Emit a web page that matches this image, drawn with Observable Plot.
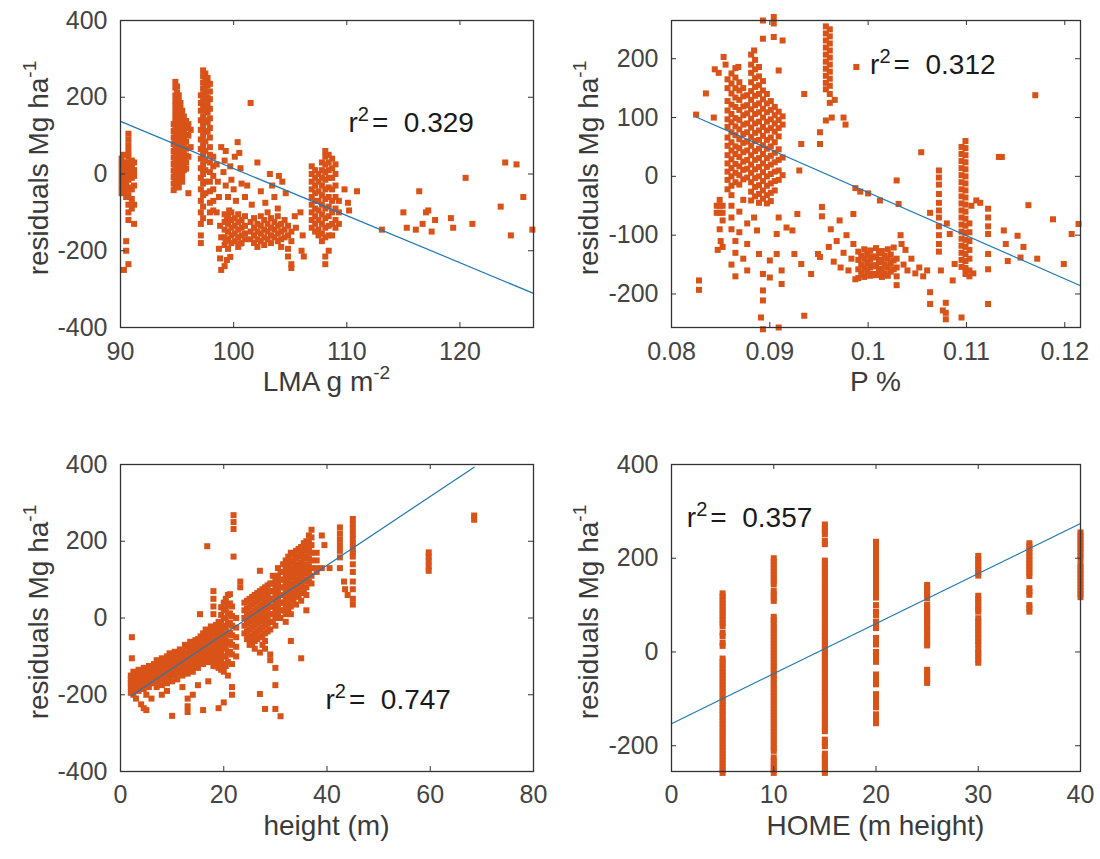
<!DOCTYPE html>
<html><head><meta charset="utf-8">
<script src="https://cdn.jsdelivr.net/npm/d3@7"></script>
<script src="https://cdn.jsdelivr.net/npm/@observablehq/plot@0.6"></script>
<style>
body{margin:0;background:#fff;}
#wrap{position:relative;width:1100px;height:859px;overflow:hidden;font-family:"Liberation Sans",Arial,Helvetica,sans-serif;}
.title{position:absolute;font-size:28px;line-height:20px;white-space:nowrap;color:#3a3a3a;}
.sup{font-size:0.68em;position:relative;top:-0.62em;}
</style></head><body><div id="wrap"></div><script>
// ---- data ----
const lmaCols = [
[90.1,[40,25,10,-5,-20,-35,-50]],[90.3,[50,30,15,0,-15,-30,-45,-250]],[90.5,[20,5,-10,-25,-40,-60,-175,-200]],
[90.7,[105,90,75,60,45,30,15,0,-15,-35,-55,-80,-100,-120,-235]],[91.0,[35,20,5,-10,-40,-65,-90]],[91.2,[30,10,-5,-30,-80,-130]],
[94.7,[130,112,95,78,60,43,26,9,-8,-25,-42]],
[94.85,[240,225,205,190,176,162,148,134,120,106,92,78,64,50,36,22,8,-6,-20,-34]],
[95.0,[228,212,198,184,170,156,142,128,114,100,86,72,58,44,30,16,2,-12,-26]],
[95.15,[205,190,176,162,148,134,120,106,92,78,64,50,36,22,8,-6,-20,-35]],
[95.3,[185,170,156,142,128,114,100,86,72,58,44,30,16,2,-12]],
[95.45,[165,150,136,122,108,94,80,66,52,38,24,10,-5,-20]],
[95.6,[150,134,118,104,90,74,58,42,26,10]],[95.8,[138,120,102,84,66,48,30,14]],
[96.0,[130,100,45,-50]],[96.2,[115,70]],
[97.1,[205,185,165,140,115,90,65,40,15,-10,-40,-70,-100,-130,-160,-180]],
[97.3,[270,255,238,222,206,190,172,150,125,100,75,50,25,0,-25,-55,-85,-115]],
[97.5,[262,246,230,214,198,182,165,140,112,85,60,35,10,-20,-50]],
[97.7,[250,232,215,198,180,160,135,110]],
[97.9,[235,215,195,170,145,120,95,70,50,30,5,-20,-45,-75,-100,-125]],
[98.2,[45,20,-5,-40,-70,-95]],
[98.5,[25,-100]],[98.6,[-20]],[98.7,[-60,-195]],[98.8,[-135,-220]],[98.9,[70,-165,-250]],
[99.1,[5]],[99.2,[35,-105,-125,-145,-165,-185,-240]],[99.3,[60,-30,-175]],[99.4,[-120,-224]],
[99.5,[-60,-110,-130,-150,-170,-195]],[99.6,[-95]],[99.7,[20,-216]],[99.8,[-15,-100,-120,-140,-160,-180]],
[100.0,[-40]],[100.1,[45,-115,-135,-155,-175]],[100.2,[-70]],[100.35,[83]],[100.4,[-105,-125,-145,-165,-190]],
[100.5,[55]],[100.6,[15,-181]],[100.7,[-25,-120,-140,-160,-180]],[101.0,[-60,-110,-135,-155,-170]],[101.2,[-30]],
[101.5,[185,-125,-150,-170]],[101.6,[-80]],[101.8,[-115,-140,-160,-180]],[102.1,[30,-130,-150,-170,-190]],
[102.4,[-45,-110,-135,-155,-175]],[102.7,[-120,-145,-165,-185]],[102.8,[-75]],[103.0,[-100,-130,-150,-170]],[103.2,[0]],
[103.3,[-115,-140,-160,-180]],[103.4,[-30]],[103.6,[-60,-125,-145,-165]],[103.9,[-90,-110,-135,-155,-175]],[104.0,[-5]],
[104.2,[-130,-150,-170,-190]],[104.3,[-20]],[104.5,[-120,-145,-165]],[104.6,[-50]],[104.8,[-135,-160,-195,-215]],
[105.1,[-150,-175,-235,-245]],[105.4,[-110]],[105.5,[-140]],[105.9,[-100]],[106.0,[-200]],[106.1,[-160]],[106.2,[-215]],
[106.9,[20,0,-20,-40,-60,-80,-100,-120,-140]],
[107.2,[10,-10,-30,-50,-70,-90,-110,-130,-150]],
[107.5,[0,-20,-45,-70,-95,-120,-145,-160]],
[107.8,[30,10,-10,-30,-55,-80,-105,-130,-155,-175]],
[108.1,[60,45,25,5,-15,-40,-65,-90,-115,-140,-165,-215,-235]],
[108.4,[50,30,10,-10,-35,-60,-85,-110,-135,-160,-200]],
[108.7,[40,15,-10,-40,-70,-100,-130,-160]],
[109.0,[25,0,-30,-60,-90,-120,-140]],[109.3,[-70,-100,-130]],
[109.8,[-40]],[110.1,[-75]],[110.2,[-95]],[110.9,[-45]],[113.1,[-145]],[115.0,[-100]],[115.3,[-140]],[116.1,[-145]],
[116.4,[-45]],[116.7,[-130]],[117.0,[-100]],[117.2,[-95]],[117.5,[-150]],[117.8,[-120]],[119.2,[-115]],[119.4,[-140]],
[120.5,[-10]],[121.1,[-130]],[123.6,[-85]],[124.0,[30]],[124.5,[-160]],[125.0,[25]],[125.6,[-60]],[126.4,[-145]]
];
const pCols = [
[0.0825,[105]],[0.0828,[-177,-193]],[0.0835,[141]],[0.0843,[100]],[0.0844,[182]],[0.0848,[176]],
[0.0846,[-50,-62]],[0.0849,[-40,-50,-62,-90]],[0.0850,[-110]],[0.0847,[-125]],[0.0852,[-50,-62,-75,-120]],
[0.0853,[203]],[0.0855,[190]],
[0.0857,[165,150,128,112,97,84,66,52,36,22,8,-6,-22]],
[0.0861,[175,158,141,122,106,92,75,58,44,29,14,0,-16,-32,-50,-70,-90,-150]],
[0.0865,[184,168,150,134,118,99,85,70,51,38,21,6,-10,-110,-130,-170]],[0.0868,[186]],
[0.0869,[160,146,130,113,96,80,63,48,33,17,2,-14,-60,-95]],
[0.0873,[150,136,119,104,88,72,57,41,25,11,-5,-40,-140]],
[0.0877,[138,121,107,90,75,59,44,28,13,-2,-80,-115,-160]],
[0.0881,[207,190,176,160,145,130,114,98,83,67,52,36,20,6,-10,-26,-41]],[0.0884,[214,-70]],
[0.0885,[198,182,167,152,137,121,106,90,74,60,43,28,12,-3,-18,-34]],[0.0887,[-92]],[0.0889,[-132]],
[0.0889,[186,170,155,140,124,109,93,78,62,47,31,16,0,-15,-30,-45]],[0.0891,[-240]],
[0.0893,[265,234,162,146,131,115,100,84,69,53,38,22,7,-8,-24,-38,-166,-194,-211,-260]],
[0.0897,[140,124,109,93,78,62,47,31,16,0,-16,-32,-46]],[0.0900,[-143,-172]],
[0.0901,[128,113,97,82,66,51,35,20,4,-12,-28,-42]],[0.0904,[271,260,237]],
[0.0905,[118,104,90,76,58,40,24,8,-8,-24]],[0.0907,[-98,-132]],
[0.0909,[180,110,96,82,68,46,28,10,-6,-70,-257]],[0.0912,[-160,-183]],[0.0913,[231,102,88,32,2]],
[0.0917,[-87]],[0.0923,[-92]],[0.0925,[-132]],[0.0928,[-64]],[0.0930,[10]],[0.0932,[55,-149]],[0.0935,[140,-237]],
[0.0942,[-166]],[0.0949,[-132]],[0.0951,[75,55,-137]],[0.0953,[-52,-68]],
[0.0957,[255,243,231,219,207,195,183,171,159,148,95]],
[0.0961,[250,238,226,214,202,190,178,166,154,140,125]],
[0.0963,[100]],[0.0966,[130]],
[0.0960,[-120]],[0.0962,[-90]],[0.0965,[-145]],[0.0968,[-110]],[0.0971,[-75]],[0.0972,[-155]],[0.0975,[100,-130]],
[0.0977,[88]],[0.0978,[-100]],[0.0980,[-160]],[0.0983,[-140]],[0.0985,[-64,-115]],[0.0987,[-20,-175]],[0.0988,[186]],
[0.0990,[-128,-142,-158,-173]],[0.0992,[-26]],[0.0993,[-135,-150,-166]],[0.0996,[-124,-140,-156,-171]],
[0.0999,[-132,-147,-162]],[0.1000,[-29]],[0.1002,[-126,-141,-155,-169]],[0.1005,[-136,-151,-166]],
[0.1008,[-122,-138,-153,-168]],[0.1011,[-131,-146,-161]],[0.1012,[-41]],[0.1014,[-127,-142,-157,-171]],
[0.1017,[-135,-150,-165]],[0.1020,[-124,-140,-155,-169]],[0.1023,[-133,-148,-162]],[0.1026,[-121,-143,-158]],
[0.1029,[-7,-140,-155,-170,-185]],[0.1031,[-47]],
[0.1033,[-100]],[0.1034,[-115]],[0.1036,[-150]],[0.1038,[-125]],[0.1040,[-160]],[0.1044,[-140]],[0.1048,[-165]],
[0.1052,[-155]],[0.1054,[41]],[0.1056,[-170]],[0.1060,[-160]],[0.1063,[-62,-197,-217]],
[0.1072,[10,-2,-14,-30,-45,-58,-70,-85,-100,-115,-128]],[0.1074,[-160]],[0.1076,[-228]],[0.1079,[-215,-232,-243]],
[0.1080,[-80]],[0.1083,[-98]],[0.1086,[-177]],[0.1088,[-149]],
[0.1095,[50,38,26,14,2,-10,-22,-34,-46,-58,-70,-82,-94,-106,-118,-130,-142,-154,-240]],
[0.1099,[60,48,36,24,12,0,-12,-24,-36,-48,-60,-72,-84,-96,-108,-120,-132,-144,-156,-166]],
[0.1103,[-80,-95,-110,-125,-140,-160,-170]],[0.1105,[-50]],[0.1107,[-165]],
[0.1110,[-41]],[0.1114,[-45]],[0.1122,[-55,-70,-85,-98,-132,-158,-217]],[0.1133,[33]],[0.1136,[33]],
[0.1138,[-92]],[0.1140,[-115]],[0.1142,[-144]],[0.1152,[-101]],[0.1155,[-138]],[0.1158,[-120]],[0.1163,[-49]],
[0.1170,[138]],[0.1172,[-140]],[0.1188,[-73]],[0.1199,[-149]],[0.1207,[-98]],[0.1214,[-81]]
];
const heightCols = [
[2.0,[-150,-160,-170,-180,-195]],[2.2,[-50,-105]],[2.5,[-140,-155,-165,-175,-185,-200]],
[3.0,[-145,-155,-165,-175,-185,-210]],[3.5,[-135,-150,-160,-170,-180,-190]],
[4.0,[-140,-150,-160,-170,-180,-225]],[4.5,[-130,-145,-155,-165,-175,-185,-235]],
[5.0,[-135,-145,-155,-165,-175,-200,-240]],[5.5,[-125,-140,-150,-160,-170,-180]],
[6.0,[-130,-140,-150,-160,-170,-210]],[6.5,[-120,-135,-148,-162]],[7.0,[-110,-125,-135,-145,-155,-165,-180]],
[7.5,[-115,-128,-142,-158]],[8.0,[-105,-120,-130,-140,-150,-160,-175,-200]],[8.5,[-110,-124,-138,-152,-166]],
[9.0,[-100,-115,-125,-135,-145,-155,-170,-190]],[9.5,[-92,-108,-122,-140,-158]],
[10.0,[-95,-110,-120,-130,-140,-150,-165,-255]],[10.5,[-88,-102,-118,-132,-148]],[11.0,[-90,-105,-115,-125,-135,-145,-160]],
[11.5,[-82,-96,-112,-128,-142]],[12.0,[-85,-100,-110,-120,-130,-140,-150,-180]],[12.5,[-70,-92,-108,-124,-138]],
[13.0,[-75,-90,-100,-110,-120,-130,-145,-210,-230,-245]],[13.5,[-62,-84,-100,-116,-132]],
[14.0,[-65,-80,-95,-105,-115,-125,-140,-200]],[14.5,[-58,-76,-92,-110,-126]],
[15.0,[-55,-70,-85,-95,-105,-115,-130,-175]],[15.4,[10]],[15.5,[-48,-64,-80,-98,-116]],
[16.0,[-40,-55,-70,-85,-95,-105,-120,-240]],[16.5,[-30,-48,-66,-84,-102]],[16.8,[187]],
[17.0,[-35,-50,-65,-80,-90,-100,-115,-165]],[17.5,[-22,-42,-60,-78,-96,-112]],
[18.0,[70,50,30,10,-30,-45,-60,-75,-85,-95,-110,-125]],[18.5,[-18,-36,-54,-72,-90,-108,-126]],
[19.0,[-10,-25,-40,-55,-70,-85,-100,-115,-130,-235]],[19.5,[28,8,-12,-32,-52,-72,-92,-112,-135]],
[20.0,[40,20,0,-20,-40,-60,-80,-100,-120,-140,-220]],[20.4,[50,25,0,-25,-50,-75,-100,-125]],
[20.8,[60,35,10,-15,-40,-65,-90,-115,-150]],[21.2,[62,38,12,-12,-38,-62,-88]],
[21.6,[30,5,-20,-45,-70,-95,-120,-180,-200]],[21.9,[268,250,232,160]],[22.4,[0,-25,-50,-75,-100]],[23.2,[95,80]],
[24.0,[40,20,0,-20,-40]],[24.5,[45,25,5,-15,-35,-55]],[25.0,[50,30,10,-10,-30,-50,-70]],[25.5,[55,35,15,-5,-25,-45,-65]],
[26.0,[60,40,20,0,-20,-40,-60,-80]],[26.5,[65,45,25,5,-15,-35,-55]],
[27.0,[123,70,50,30,10,-10,-30,-50,-90,-198]],[27.5,[75,55,35,15,-5,-25,-45,-70]],
[28.0,[80,60,40,20,0,-20,-40,-60,-80,-237]],[28.5,[85,65,45,25,5,-15,-35]],
[29.0,[90,70,50,30,10,-10,-30,-95,-110]],[29.5,[110,90,70,50,30,10,-10]],
[30.0,[100,80,60,40,20,0,-20,-130,-175,-237]],[30.5,[130,110,90,70,50,30,10]],
[31.0,[120,100,80,60,40,20,0,-256]],[31.5,[140,120,100,80,60,40,20]],[32.0,[150,130,110,90,70,50,30,10,-10]],
[32.5,[160,140,120,100,80,60,40,20]],[33.0,[170,150,130,110,90,70,50,30,10,-60]],[33.5,[165,145,125,105,85,65,45]],
[34.0,[175,155,135,115,95,75,55,35]],[34.5,[180,160,140,120,100,80,60]],
[35.0,[185,165,145,125,105,85,65,45,-105]],[35.5,[195,175,155,135,115,95,75]],
[36.0,[200,180,160,140,120,100,80,60,20]],[36.5,[215,195,175,155,135,115,95]],
[37.0,[230,210,190,170,150,130,110,90]],[38.0,[170,150,130,120]],
[39.0,[215,130]],[39.5,[190]],[40.5,[130]],
[42.5,[236,220,205,190,175,158,130]],[43.3,[95]],[43.5,[75]],[44.0,[60]],
[45.0,[258,245,232,219,206,193,180,170,160,140,120,95,75,50,35]],
[59.7,[171,160,148,135,123]],[68.5,[267,256]]
];
const homeCols = [
[5,[125,118,111,104,97,90,83,76,69,62,55,41,34,20,13,-14,-21,-28,-35,-42,-49,-56,-63,-70,-77,-84,-91,-98,-105,-112,-119,-126,-133,-140,-147,-154,-161,-168,-175,-182,-189,-196,-203,-210,-217,-224,-231,-238,-245,-252,-258]],
[10,[200,193,186,179,172,165,158,151,144,130,123,116,109,75,68,61,54,47,40,33,26,19,12,5,-2,-9,-16,-23,-30,-37,-44,-51,-58,-65,-72,-79,-86,-93,-100,-107,-114,-121,-128,-135,-142,-149,-156,-163,-170,-177,-184,-191,-198,-205,-211,-225,-232,-239,-246,-252,-258]],
[15,[272,265,258,251,237,230,195,188,181,174,167,160,153,146,139,132,125,118,111,104,97,90,83,76,69,62,55,48,41,34,27,20,13,6,-1,-8,-15,-22,-29,-36,-43,-50,-57,-64,-71,-78,-85,-92,-99,-106,-113,-120,-127,-134,-141,-148,-155,-162,-169,-187,-194,-201,-217,-224,-231,-238,-245,-252,-258]],
[20,[235,228,221,214,207,200,193,186,179,172,165,158,151,144,137,130,123,116,100,86,79,65,58,51,30,23,16,0,-7,-14,-21,-48,-55,-62,-69,-90,-97,-104,-111,-118,-133,-140,-147,-152]],
[25,[143,136,129,122,115,101,94,87,80,73,66,59,52,45,35,28,21,14,-38,-45,-52,-59,-66]],
[30,[205,198,191,184,177,170,163,120,113,106,99,92,86,72,65,58,51,44,37,30,23,16,5,-2,-9,-16,-23]],
[35,[232,225,218,211,204,197,190,183,176,169,162,136,129,122,100,93,86]],
[40,[255,248,241,234,227,220,213,206,199,187,180,173,166,159,152,145,138,131,124,117]]
];
const lmaFit = [[90,137],[126.5,-311]];
const pFit = [[0.0825,101],[0.1216,-186]];
const heightFit = [[2.05,-203],[68.5,393]];
const homeFit = [[0,-153],[40,274]];
const r2Values = ["0.329","0.312","0.747","0.357"];
const xTickSets = [[90,100,110,120],[0.08,0.09,0.1,0.11,0.12],[0,20,40,60,80],[0,10,20,30,40]];
const yTickSets = [[-400,-200,0,200,400],[-200,-100,0,100,200],[-400,-200,0,200,400],[-200,0,200,400]];
const xTitles = [["LMA g m","-2"],["P %",""],["height (m)",""],["HOME (m height)",""]];
const yTitle = ["residuals Mg ha","-1"];

// ---- drawing ----
const FONT = '"Liberation Sans", Arial, Helvetica, sans-serif';
const SVGNS = "http://www.w3.org/2000/svg";
const wrap = document.getElementById("wrap");
const expand = cols => cols.flatMap(([x, ys]) => ys.map(y => ({x, y})));

function titleHTML([t, s]) {
  return t + (s ? `<span class="sup">${s}</span>` : "");
}

// turn "r2= value" into r with a raised 2, like the reference
function supR2(svg) {
  svg.querySelectorAll("text").forEach(t => {
    if (!t.textContent.startsWith("r2=")) return;
    const rest = t.textContent.slice(3);
    t.textContent = "";
    const parts = [["r", {}], ["2", {"font-size": "20px", dy: "-11"}], ["=", {dy: "11", dx: "3"}], [rest, {}]];
    for (const [s, attrs] of parts) {
      const ts = document.createElementNS(SVGNS, "tspan");
      for (const k in attrs) ts.setAttribute(k, attrs[k]);
      ts.textContent = s;
      t.appendChild(ts);
    }
  });
}

function panel(i, cfg) {
  const {cols, fit, xDomain, yDomain, noteAt, box, m, pad, xTitleTop, yTitleX, yTitleY} = cfg;
  const innerW = box.w - m.l - m.r, innerH = box.h - m.t - m.b;
  const xt = xTickSets[i], yt = yTickSets[i];
  const tick = {stroke: "#333", strokeWidth: 1};
  const svg = Plot.plot({
    width: box.w, height: box.h,
    marginLeft: m.l, marginRight: m.r, marginTop: m.t, marginBottom: m.b,
    x: {domain: xDomain}, y: {domain: yDomain},
    style: {fontFamily: FONT, fontSize: "25px", color: "#444", background: "transparent", overflow: "visible"},
    marks: [
      Plot.dot(expand(cols), {x: "x", y: "y", symbol: "square", r: 3.4, fill: "#D95319", stroke: null}),
      Plot.line(fit.map(([x, y]) => ({x, y})), {x: "x", y: "y", stroke: "#1F77B4", strokeWidth: 1.2}),
      Plot.text([{x: noteAt[0], y: noteAt[1], t: "r2=\u00a0\u00a0" + r2Values[i]}],
        {x: "x", y: "y", text: "t", textAnchor: "start", fontSize: 28, fill: "#1a1a1a"}),
      Plot.ruleX(xt, {x: d => d, insetTop: innerH - 5, ...tick}),
      Plot.ruleX(xt, {x: d => d, insetBottom: innerH - 5, ...tick}),
      Plot.ruleY(yt, {y: d => d, insetRight: innerW - 5, ...tick}),
      Plot.ruleY(yt, {y: d => d, insetLeft: innerW - 5, ...tick}),
      Plot.frame({stroke: "#333", strokeWidth: 1.3}),
      Plot.axisX(xt, {tickSize: 0, tickPadding: pad, tickFormat: d => String(d), label: null}),
      Plot.axisY(yt, {tickSize: 0, tickPadding: 13, tickFormat: d => String(d), label: null})
    ]
  });
  supR2(svg);
  const holder = document.createElement("div");
  holder.style.cssText = `position:absolute;left:${box.x}px;top:${box.y}px;width:${box.w}px;height:${box.h}px;`;
  holder.appendChild(svg);
  wrap.appendChild(holder);

  const xT = document.createElement("div");
  xT.className = "title";
  xT.innerHTML = titleHTML(xTitles[i]);
  xT.style.left = (box.x + m.l + innerW / 2) + "px";
  xT.style.top = xTitleTop + "px";
  xT.style.transform = "translateX(-50%)";
  wrap.appendChild(xT);

  const yT = document.createElement("div");
  yT.className = "title";
  yT.innerHTML = titleHTML(yTitle);
  yT.style.left = yTitleX + "px";
  yT.style.top = yTitleY + "px";
  yT.style.transform = "translate(-50%,-50%) rotate(-90deg)";
  wrap.appendChild(yT);
}

panel(0, {cols: lmaCols, fit: lmaFit, xDomain: [90, 126.5], yDomain: [-400, 400], noteAt: [110.15, 134],
  box: {x: 0, y: 0, w: 550, h: 430}, m: {t: 20, r: 17, b: 103, l: 120}, pad: 15, xTitleTop: 372, yTitleX: 40, yTitleY: 168});
panel(1, {cols: pCols, fit: pFit, xDomain: [0.08, 0.1216], yDomain: [-257, 265], noteAt: [0.1002, 190],
  box: {x: 550, y: 0, w: 550, h: 430}, m: {t: 20, r: 20, b: 103, l: 121}, pad: 15, xTitleTop: 372, yTitleX: 590, yTitleY: 168});
panel(2, {cols: heightCols, fit: heightFit, xDomain: [0, 80], yDomain: [-400, 400], noteAt: [39.7, -215],
  box: {x: 0, y: 430, w: 550, h: 429}, m: {t: 34, r: 17, b: 88, l: 120}, pad: 14, xTitleTop: 816, yTitleX: 40, yTitleY: 612});
panel(3, {cols: homeCols, fit: homeFit, xDomain: [0, 40], yDomain: [-255, 400], noteAt: [1.5, 285],
  box: {x: 550, y: 430, w: 550, h: 429}, m: {t: 34, r: 20, b: 88, l: 121}, pad: 14, xTitleTop: 816, yTitleX: 590, yTitleY: 612});
</script></body></html>
